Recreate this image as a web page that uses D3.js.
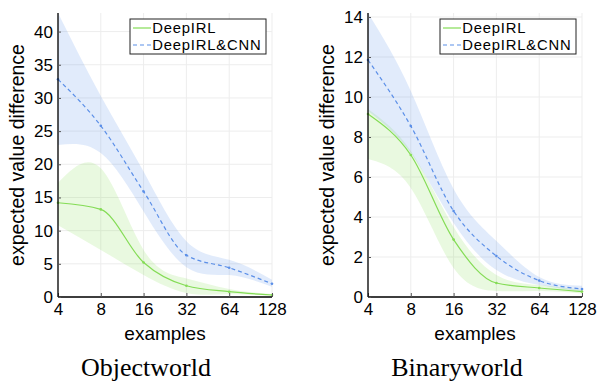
<!DOCTYPE html>
<html><head><meta charset="utf-8">
<script src="https://cdn.jsdelivr.net/npm/d3@7"></script>
<style>body{margin:0;background:#fff}svg{display:block}</style>
</head><body><svg id="c" width="599" height="384"></svg>
<script>
const examples = [4, 8, 16, 32, 64, 128];
const seriesNames = ["DeepIRL", "DeepIRL&CNN"];

const owIrlMean = [14.2, 13.2, 5.2, 1.7, 0.8, 0.3];
const owIrlLow  = [10.8, 7.1, 3.3, 0.6, 0.4, 0.2];
const owIrlHigh = [17.2, 19.4, 7.1, 2.8, 1.2, 0.45];
const owCnnMean = [32.8, 25.8, 15.9, 6.3, 4.4, 2.0];
const owCnnLow  = [22.9, 21.7, 12.9, 4.5, 3.3, 1.55];
const owCnnHigh = [42.8, 30.3, 18.9, 8.4, 5.6, 2.6];

const bwIrlMean = [9.15, 7.1, 2.87, 0.7, 0.45, 0.27];
const bwIrlLow  = [6.9, 5.45, 1.45, 0.3, 0.3, 0.18];
const bwIrlHigh = [9.4, 7.3, 3.5, 1.1, 0.6, 0.35];
const bwCnnMean = [11.85, 8.55, 4.3, 2.05, 0.82, 0.4];
const bwCnnLow  = [9.3, 7.2, 3.7, 1.35, 0.6, 0.28];
const bwCnnHigh = [14.2, 10.3, 5.4, 2.8, 1.0, 0.56];

const owYTicks = [0, 5, 10, 15, 20, 25, 30, 35, 40];
const bwYTicks = [0, 2, 4, 6, 8, 10, 12, 14];

const panels = [
  {title: "Objectworld", x0: 58, x1: 272, ymax: 42.8, yTicks: owYTicks,
   irl: [owIrlMean, owIrlLow, owIrlHigh], cnn: [owCnnMean, owCnnLow, owCnnHigh],
   legend: {x: 130, y: 19}, ylabBase: 24, titleX: 146},
  {title: "Binaryworld", x0: 368, x1: 582, ymax: 14.2, yTicks: bwYTicks,
   irl: [bwIrlMean, bwIrlLow, bwIrlHigh], cnn: [bwCnnMean, bwCnnLow, bwCnnHigh],
   legend: {x: 440, y: 19}, ylabBase: 333.5, titleX: 457}
];

const green = "#84dc55", blue = "#5b8fe8";
const svg = d3.select("#c");
const yTop = 13, yBot = 297;
const sans = "'Liberation Sans', Arial, sans-serif";

panels.forEach(p => {
  const x = d3.scaleLog().base(2).domain([4, 128]).range([p.x0, p.x1]);
  const y = d3.scaleLinear().domain([0, p.ymax]).range([yBot, yTop]);
  const g = svg.append("g");

  // grid
  g.selectAll(".gx").data(examples).join("line")
    .attr("x1", d => x(d)).attr("x2", d => x(d)).attr("y1", yTop).attr("y2", yBot)
    .attr("stroke", "#ededed").attr("stroke-width", 1);
  g.selectAll(".gy").data(p.yTicks).join("line")
    .attr("x1", p.x0).attr("x2", p.x1).attr("y1", d => y(d)).attr("y2", d => y(d))
    .attr("stroke", "#ededed").attr("stroke-width", 1);

  const area = d3.area().x((d, i) => x(examples[i])).y0(d => y(d[0])).y1(d => y(d[1])).curve(d3.curveNatural);
  const line = d3.line().x((d, i) => x(examples[i])).y(d => y(d)).curve(d3.curveMonotoneX);

  [[p.irl, green], [p.cnn, blue]].forEach(([s, col]) => {
    const band = s[1].map((lo, i) => [lo, s[2][i]]);
    g.append("path").attr("d", area(band)).attr("fill", col).attr("fill-opacity", 0.18);
  });
  g.append("path").attr("d", line(p.irl[0])).attr("fill", "none").attr("stroke", green).attr("stroke-width", 1.2);
  g.append("path").attr("d", line(p.cnn[0])).attr("fill", "none").attr("stroke", blue).attr("stroke-width", 1.2)
    .attr("stroke-dasharray", "4,3");
  [[p.irl[0], green], [p.cnn[0], blue]].forEach(([m, col]) => {
    g.selectAll(null).data(m).join("circle").attr("cx", (d, i) => x(examples[i])).attr("cy", d => y(d))
      .attr("r", 1.3).attr("fill", col);
  });

  // axes
  const ax = g.append("g").attr("transform", `translate(0,${yBot})`)
    .call(d3.axisBottom(x).tickValues(examples).tickFormat(d3.format("d")).tickSizeInner(-4).tickSizeOuter(0).tickPadding(6));
  const ay = g.append("g").attr("transform", `translate(${p.x0},0)`)
    .call(d3.axisLeft(y).tickValues(p.yTicks).tickSizeInner(-3).tickSizeOuter(0).tickPadding(5));
  [ax, ay].forEach(a => {
    a.select(".domain").attr("stroke", "#000").attr("stroke-width", 1.3);
    a.selectAll(".tick line").attr("stroke", "#555");
    a.selectAll("text").attr("font-family", sans).attr("font-size", 17).attr("fill", "#000");
  });
  ay.select(".domain").attr("d", `M0,${yTop}V${yBot}`);
  ax.select(".domain").attr("d", `M${p.x0},0H${p.x1}`);

  g.append("text").attr("x", (p.x0 + p.x1) / 2).attr("y", 340).attr("text-anchor", "middle")
    .attr("font-family", sans).attr("font-size", 19).text("examples");
  g.append("text").attr("transform", `translate(${p.ylabBase},${(yTop + yBot) / 2}) rotate(-90)`)
    .attr("text-anchor", "middle").attr("font-family", sans).attr("font-size", 19.5).text("expected value difference");
  g.append("text").attr("x", p.titleX).attr("y", 376).attr("text-anchor", "middle")
    .attr("font-family", "'Liberation Serif', 'Times New Roman', serif").attr("font-size", 26).text(p.title);

  // legend
  const L = g.append("g").attr("transform", `translate(${p.legend.x},${p.legend.y})`);
  L.append("rect").attr("width", 136).attr("height", 35).attr("fill", "#fff").attr("stroke", "#222").attr("stroke-width", 1);
  seriesNames.forEach((n, i) => {
    const yy = 9 + i * 17;
    L.append("line").attr("x1", 3).attr("x2", 21).attr("y1", yy).attr("y2", yy)
      .attr("stroke", i ? blue : green).attr("stroke-width", 1.2).attr("stroke-dasharray", i ? "4,3" : null);
    L.append("text").attr("x", 22.3).attr("y", yy + 5).attr("font-family", sans).attr("font-size", 14.8)
      .attr("letter-spacing", 0.8).text(n);
  });
});
</script></body></html>
